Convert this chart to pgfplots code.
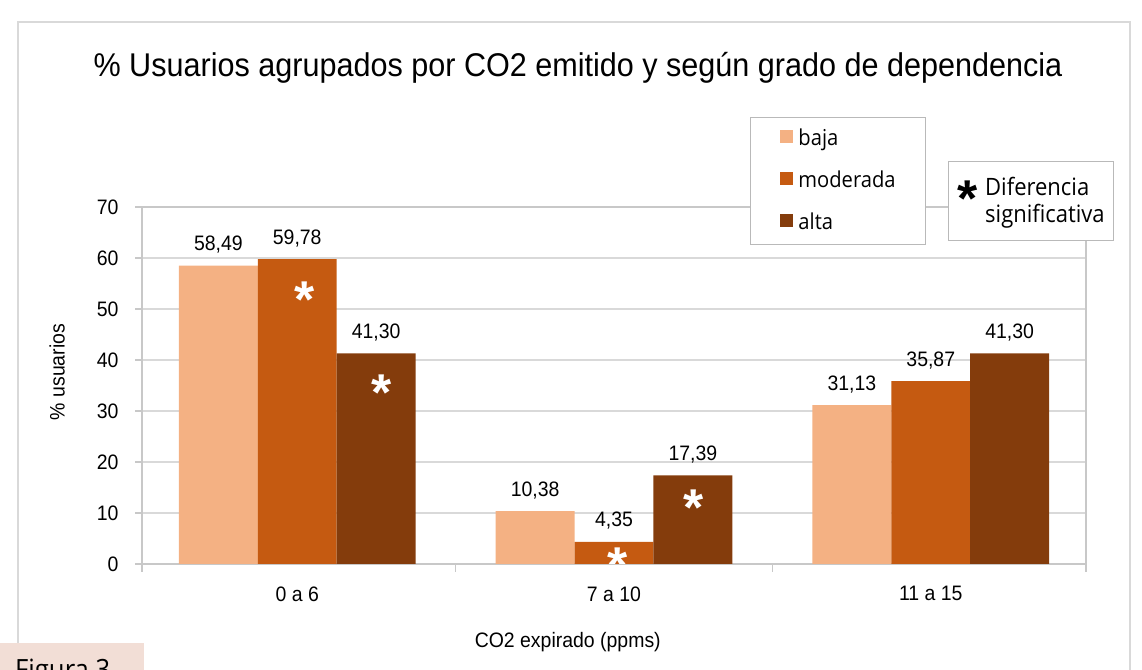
\documentclass[border=0pt]{standalone}
\usepackage{fontspec}
\setmainfont{Liberation Sans}[FakeStretch=0.93]
\newfontfamily\legfont{Open Sans}[FakeStretch=0.92]
\newfontfamily\astfont{Liberation Sans}
\usepackage{pgfplots}
\pgfplotsset{compat=1.18}
\definecolor{baja}{HTML}{F4B183}
\definecolor{moder}{HTML}{C55A11}
\definecolor{alta}{HTML}{843C0C}
\definecolor{gridc}{HTML}{D9D9D9}
\definecolor{axc}{HTML}{C8C8C8}
\definecolor{figbg}{HTML}{F2DED6}
\pgfplotsset{myleg/.style={legend image code/.code={\fill[##1,draw=none] (0bp,-4bp) rectangle (13bp,9bp);}}}
\begin{document}
\begin{tikzpicture}[x=1bp,y=1bp]
\path[use as bounding box] (0,0) rectangle (1142,670);
\clip (0,0) rectangle (1142,670);
\draw[gridc, line width=1.2bp] (18,648) rectangle (1130,-50);
\fill[figbg] (0,27) rectangle (144,-50);
\node[anchor=base west, font=\legfont\fontsize{28}{30}\selectfont, inner sep=0pt] at (15,-10) {Figura 3};
\node[anchor=base, font=\fontsize{33}{36}\selectfont, inner sep=0pt] at (578,593) {\% Usuarios agrupados por CO2 emitido y según grado de dependencia};
\begin{axis}[
  at={(142bp,106bp)}, anchor=south west,
  scale only axis, width=944bp, height=357bp,
  xmin=-0.49, xmax=2.49, ymin=0, ymax=70,
  xtick={0,1,2}, xticklabels={0 a 6, 7 a 10, 11 a 15},
  minor xtick={-0.49,0.5,1.5,2.49},
  ytick={0,10,...,70},
  ymajorgrids,
  major grid style={gridc, line width=1.2bp},
  axis line style={axc, line width=1.2bp},
  every tick/.style={axc, line width=1.2bp},
  major x tick style={draw=none},
  tick align=outside, xtick pos=bottom, ytick pos=left,
  major tick length=7bp, minor tick length=8bp,
  ticklabel style={font=\fontsize{21}{24}\selectfont, text=black},
  xticklabel style={yshift=-12bp},
  yticklabel style={xshift=-13bp},
  /pgf/number format/assume math mode=true,
  ybar, bar width=0.249,
  nodes near coords,
  nodes near coords style={anchor=base, yshift=15bp, font=\fontsize{21}{24}\selectfont, text=black, inner sep=0pt,
    /pgf/number format/fixed, /pgf/number format/fixed zerofill,
    /pgf/number format/precision=2, /pgf/number format/use comma},
  ylabel={\% usuarios},
  ylabel style={at={(axis description cs:-0.090,0.538)}, anchor=center, font=\fontsize{21}{24}\selectfont},
  xlabel={CO2 expirado (ppms)},
  xlabel style={at={(axis description cs:0.451,-0.235)}, anchor=base, font=\fontsize{21}{24}\selectfont},
  legend style={at={(axis description cs:0.644,1.252)}, anchor=north west,
    draw=gray!55, line width=1bp, fill=white,
    font=\legfont\fontsize{22}{24}\selectfont,
    inner xsep=30bp, inner ysep=10bp, row sep=19bp,
    nodes={inner sep=0pt, text height=18bp, text depth=5bp},
    /tikz/every odd column/.append style={column sep=5bp}},
  legend cell align=left,
]
\addplot[fill=baja, draw=none, bar shift=-0.249, myleg] coordinates {(0,58.49) (1,10.38) (2,31.13)};
\addplot[fill=moder, draw=none, bar shift=0, myleg] coordinates {(0,59.78) (1,4.35) (2,35.87)};
\addplot[fill=alta, draw=none, bar shift=0.249, myleg] coordinates {(0,41.30) (1,17.39) (2,41.30)};
\legend{baja, moderada, alta}
\node[anchor=base, text=white, inner sep=0pt, font=\astfont\bfseries\fontsize{52}{52}\selectfont] at (axis cs:0.022,48.35) {*};
\node[anchor=base, text=white, inner sep=0pt, font=\astfont\bfseries\fontsize{52}{52}\selectfont] at (axis cs:0.265,30.15) {*};
\node[anchor=base, text=white, inner sep=0pt, font=\astfont\bfseries\fontsize{52}{52}\selectfont] at (axis cs:1.01,-3.75) {*};
\node[anchor=base, text=white, inner sep=0pt, font=\astfont\bfseries\fontsize{52}{52}\selectfont] at (axis cs:1.252,7.6) {*};
\end{axis}
\draw[gray!55, line width=1bp, fill=white] (948,508) rectangle (1113,429);
\node[anchor=base, inner sep=0pt, font=\astfont\bfseries\fontsize{52}{52}\selectfont] at (968,453) {*};
\node[anchor=north west, inner sep=0pt, align=left, font=\legfont\fontsize{24}{27}\selectfont] at (985,493) {Diferencia\\significativa};
\end{tikzpicture}
\end{document}
